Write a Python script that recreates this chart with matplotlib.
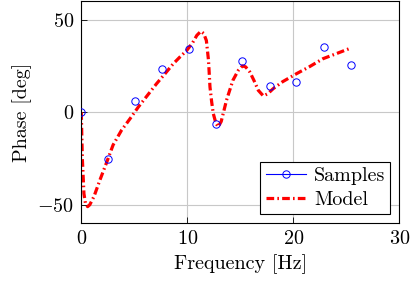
import matplotlib
matplotlib.use("Agg")
import matplotlib.pyplot as plt
import numpy as np
from matplotlib.lines import Line2D

plt.rcParams['font.family'] = 'serif'
plt.rcParams['font.serif'] = ['cmr10']
plt.rcParams['mathtext.fontset'] = 'cm'
plt.rcParams['axes.formatter.use_mathtext'] = True

# Samples
sample_freq = [0.0, 2.55, 5.07, 7.6, 10.15, 12.68, 15.2, 17.77, 20.3, 22.87, 25.4]
sample_phase = [0.0, -25.4, 5.8, 23.1, 33.9, -6.4, 27.8, 14.1, 16.5, 35.1, 25.6]

# Model curve
model_freq = [0.0, 0.1, 0.25, 0.4, 0.6, 0.8, 1.2, 1.76, 2.4, 3.0, 3.8, 4.6, 5.38, 6.2,
              7.1, 7.9, 8.68, 9.3, 9.94, 10.5, 10.9, 11.28, 11.55, 11.8, 12.0, 12.14,
              12.3, 12.45, 12.7, 12.92, 13.2, 13.7, 14.3, 14.8, 15.2, 15.5, 15.9, 16.3,
              16.7, 17.17, 17.6, 18.1, 19.0, 20.3, 21.5, 22.8, 24.0, 25.4]
model_phase = [0.0, -25.0, -44.0, -49.5, -51.0, -50.0, -45.5, -36.6, -27.0, -17.7, -9.7, -3.5, 2.8, 8.8,
               15.4, 20.8, 26.2, 29.8, 33.3, 37.5, 41.5, 43.7, 42.5, 38.7, 28.0, 13.6,
               5.5, -0.7, -6.0, -7.9, -5.0, 6.5, 17.2, 22.5, 25.0, 24.5, 21.7, 17.0,
               11.8, 8.8, 10.0, 12.7, 16.5, 20.8, 24.5, 28.9, 31.5, 34.6]

dashdot = (0, (2.4, 1.0, 0.5, 1.0))

fig = plt.figure(figsize=(4.16, 2.83), dpi=100)
ax = fig.add_axes([0.1954, 0.211, 0.7645, 0.787])

ax.plot(sample_freq, sample_phase, color='blue', linewidth=0.6, linestyle='none',
        marker='o', markersize=5.3, markerfacecolor='none', markeredgecolor='blue',
        markeredgewidth=0.7, label='Samples', zorder=3)
ax.plot(model_freq, model_phase, color='red', linewidth=2.3, linestyle=dashdot,
        label='Model', zorder=2)

ax.set_xlim(0, 30)
ax.set_ylim(-60, 60.3)
ax.set_xticks([0, 10, 20, 30])
ax.set_yticks([-50, 0, 50])
ax.grid(True, color='#c8c8c8', linewidth=0.8)
ax.set_axisbelow(True)
ax.tick_params(direction='in', labelsize=14.5, length=4, width=0.6, pad=5)
for s in ax.spines.values():
    s.set_linewidth(0.8)

ax.set_xlabel('Frequency [Hz]', fontsize=14.5, labelpad=4)
ax.set_ylabel('Phase [deg]', fontsize=14.5, labelpad=4)

handles = [Line2D([], [], color='blue', linewidth=0.8, marker='o', markersize=5.3,
                  markerfacecolor='none', markeredgecolor='blue', markeredgewidth=0.7),
           Line2D([], [], color='red', linewidth=2.3, linestyle=dashdot)]
leg = ax.legend(handles, ['Samples', 'Model'], loc='lower right', fontsize=14.5,
                fancybox=False, edgecolor='black', framealpha=1, handlelength=2.0,
                borderaxespad=0.45, labelspacing=0.3, handletextpad=0.4, borderpad=0.25)
leg.get_frame().set_linewidth(0.8)

fig.savefig('out.png', dpi=100)
